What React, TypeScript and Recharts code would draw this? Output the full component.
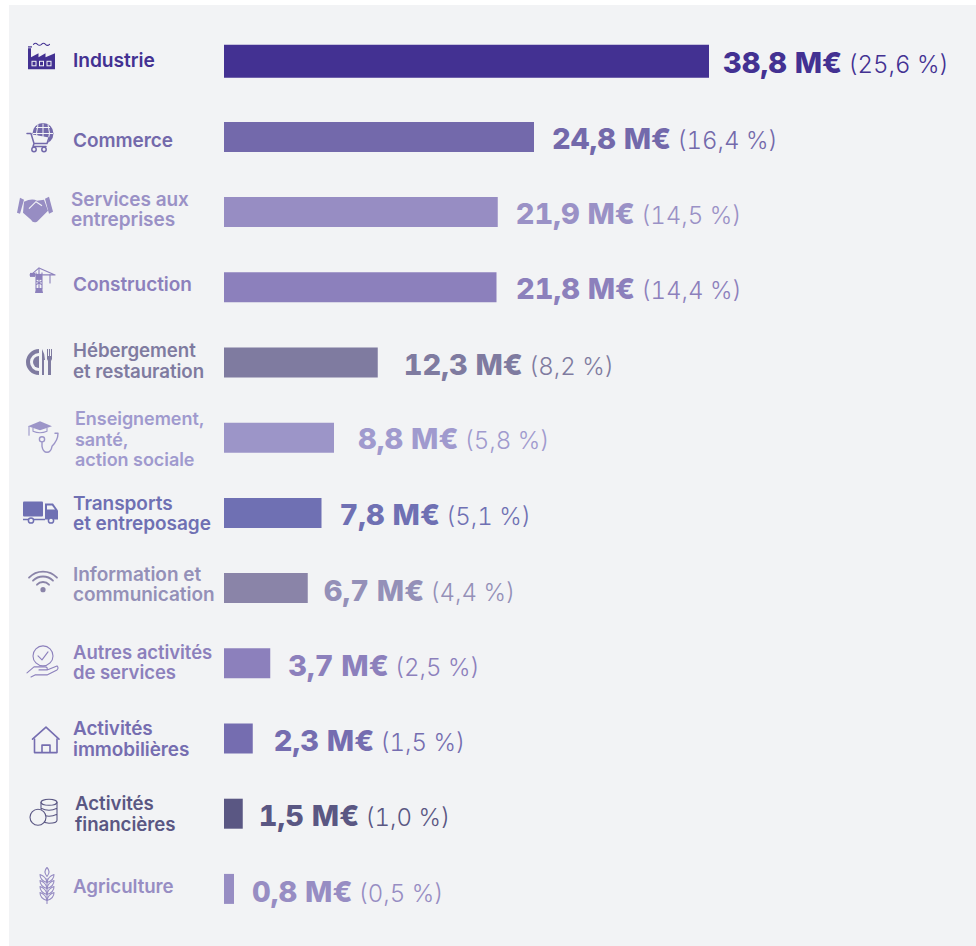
import { Bar, BarChart, Cell, LabelList, Rectangle, XAxis, YAxis } from "recharts";

const categories = [
  "Industrie",
  "Commerce",
  "Services aux|entreprises",
  "Construction",
  "Hébergement|et restauration",
  "Enseignement,|santé,|action sociale",
  "Transports|et entreposage",
  "Information et|communication",
  "Autres activités|de services",
  "Activités|immobilières",
  "Activités|financières",
  "Agriculture",
];
const amounts = [38.8, 24.8, 21.9, 21.8, 12.3, 8.8, 7.8, 6.7, 3.7, 2.3, 1.5, 0.8];
const shares = ["25,6", "16,4", "14,5", "14,4", "8,2", "5,8", "5,1", "4,4", "2,5", "1,5", "1,0", "0,5"];
const barColors = [
  "#433192", "#7369ab", "#978dc3", "#8c80bc", "#7f7ba0", "#9c95c8",
  "#6f70b3", "#8a84a8", "#8c80bc", "#756db0", "#5a5783", "#978dc3",
];
const textColors = [
  "#433192", "#7369ab", "#9a91c6", "#8c80bc", "#7f7ba0", "#a09ace",
  "#6f70b3", "#9490b8", "#8c80bc", "#756db0", "#5a5783", "#978dc3",
];

// hand placed offsets of the row labels, one per row
const labelX = [73, 73, 71, 73, 73, 75, 73, 73, 73, 73, 75, 73];
const labelDy = [-1, 3, -13, -3, -12, -19, -10, -14, -11, -10, -10, -3];
const labelSize = [19.2, 19, 19, 19, 18.7, 18, 19, 19, 18.5, 18.9, 18.7, 18.7];
const valueGap = [14, 18, 18, 19.5, 26, 24, 18, 16, 18, 21, 16, 18];
const valueDy = [1, 2, 1, 1, 2, 1, 2, 2, 2, 2, 2, 3];

const data = categories.map((name, i) => ({ name, amount: amounts[i], share: shares[i] }));

const FONT = "Inter, 'Liberation Sans', sans-serif";
const PANEL = "#f2f3f5";

function RowIcon({ index, y, color }: { index: number; y: number; color: string }) {
  const line = { fill: "none", stroke: color, strokeWidth: 1.5, strokeLinecap: "round" as const, strokeLinejoin: "round" as const };
  const thin = { ...line, strokeWidth: 1.1 };
  switch (index) {
    case 0:
      return (
        <g transform={`translate(41.5 ${y})`}>
          <path d="M-13.5 8 V-13 H-10.5 V-4 L-3 -8 V-4 L4 -8 V-4 L13.5 -8 V8 Z" fill={color} />
          <rect x={-13.5} y={-15} width={4} height={1.2} fill={color} />
          <path d="M-8 -17 q2 -2 4 0 t4 0 t4 0 t4 0" {...thin} />
          {[-9.5, -2, 5.5].map((x) => (
            <rect key={x} x={x} y={0} width={4} height={4.5} fill="none" stroke={PANEL} strokeWidth={1} />
          ))}
        </g>
      );
    case 1:
      return (
        <g transform={`translate(0 ${y})`}>
          <circle cx={43} cy={-3} r={10.5} fill={color} />
          <path d="M33 -3 H53 M43 -13 V7 M36 -9 H50 M38 -12 Q35 -3 38 5 M48 -12 Q51 -3 48 5" stroke={PANEL} strokeWidth={1} fill="none" />
          <path d="M27 -3 H31 L34 7 H47 L49 1 M34 7 L33 10 H46" {...line} fill={PANEL} />
          <circle cx={34} cy={13} r={2.2} {...line} />
          <circle cx={44} cy={13} r={2.2} {...line} />
        </g>
      );
    case 2:
      return (
        <g transform={`translate(0 ${y})`} fill={color}>
          <path d="M20 -14 L24 -12 L20 2 L17 1 Z" />
          <path d="M45 -13 L49 -15 L53 0 L49 2 Z" />
          <path d="M24 -10 Q32 -14 37 -11 L44 -12 L48 -1 L37 10 Q33 12 31 8 L23 1 Z" />
          <path d="M29 -3 L36 -10 L42 -6" fill="none" stroke={PANEL} strokeWidth={1.2} />
        </g>
      );
    case 3:
      return (
        <g transform={`translate(0 ${y})`}>
          <path d="M39 -18 V2 M36 -14 V2 M42 -14 V2 M36 -6 L42 -2 M42 -6 L36 -2" {...thin} />
          <path d="M30 -12 H55 M39 -19 L31 -12 M39 -19 L55 -12" {...thin} />
          <rect x={30} y={-14} width={5} height={4} fill={color} />
          <rect x={36} y={-13} width={6} height={6} fill={color} />
          <path d="M50 -12 V-4" {...thin} />
          <path d="M35 6 L36 1 H42 L43 6 Z" fill={color} />
        </g>
      );
    case 4:
      return (
        <g transform={`translate(0 ${y})`} fill={color}>
          <path d="M39 -13 A13 13 0 0 0 39 13 V9 A9 9 0 0 1 39 -9 Z" />
          <path d="M33 0 A6 6 0 0 1 39 -6 V6 A6 6 0 0 1 33 0 Z" />
          <path d="M42 -13 Q45 -8 45 -2 H44 V13 H42 Z" />
          <path d="M47 -13 H48 V-6 H49 V-13 H50 V-6 H51 V-13 H52 V-3 L51 -1 V13 H48 V-1 L47 -3 Z" />
        </g>
      );
    case 5:
      return (
        <g transform={`translate(0 ${y})`}>
          <path d="M28 -11 L40 -16 L52 -11 L40 -7 Z" fill={color} />
          <path d="M33 -9 V-6 Q40 -3 47 -6 V-9 M29 -11 L29 -2" {...thin} />
          <circle cx={42} cy={2} r={2.6} {...thin} strokeWidth={1.4} />
          <path d="M42 5 V9 Q43 15 47 15 Q51 15 52 9 Q58 3 58 -4 H55" {...thin} strokeWidth={1.4} />
        </g>
      );
    case 6:
      return (
        <g transform={`translate(0 ${y})`}>
          <rect x={23} y={-11} width={20} height={15} fill={color} rx={1} />
          <path d="M45 -9 H53 L58 -2 V7 H45 Z" fill={color} />
          <path d="M47 -7 H52 L55 -3 H47 Z" fill={PANEL} />
          <path d="M23 7 H45" stroke={color} strokeWidth={1.5} />
          <circle cx={31} cy={8} r={2.6} fill={PANEL} stroke={color} strokeWidth={1.5} />
          <circle cx={51} cy={8} r={2.6} fill={PANEL} stroke={color} strokeWidth={1.5} />
        </g>
      );
    case 7:
      return (
        <g transform={`translate(43 ${y + 2})`}>
          <circle cx={0} cy={0} r={2.6} fill={color} />
          <path d="M-6 -5 A8 8 0 0 1 6 -5 M-10 -9 A14 14 0 0 1 10 -9 M-14 -12 A19 19 0 0 1 14 -12" {...line} strokeWidth={1.8} />
        </g>
      );
    case 8:
      return (
        <g transform={`translate(0 ${y})`}>
          <circle cx={43} cy={-7} r={10} {...thin} />
          <path d="M38 -7 L42 -3 L48 -11" {...thin} />
          <path d="M27 10 L34 4 H45 Q48 4 47 7 H39 M47 7 L57 3 Q59 5 57 7 L47 12 H35 L31 14" {...thin} />
        </g>
      );
    case 9:
      return (
        <g transform={`translate(0 ${y})`}>
          <path d="M32.5 1 L46 -11 L59 1" {...line} strokeWidth={1.6} />
          <path d="M34.5 1 V14.5 H57 V1 M42 14.5 V7 H50 V14.5" {...line} strokeWidth={1.6} />
        </g>
      );
    case 10:
      return (
        <g transform={`translate(0 ${y})`}>
          <ellipse cx={49} cy={-11} rx={8} ry={3} {...thin} />
          <path d="M41 -11 V7 Q45 10 49 10 Q57 10 57 7 V-11 M41 -5 Q49 -1 57 -5 M41 1 Q49 5 57 1" {...thin} />
          <circle cx={38} cy={4} r={8} {...thin} fill={PANEL} />
        </g>
      );
    default:
      return (
        <g transform={`translate(47 ${y})`}>
          <path d="M0 -21 Q-4 -17 0 -12 Q4 -17 0 -21 M0 -10 V15" {...thin} />
          {[-11, -5, 1, 7].map((t) => (
            <g key={t}>
              <path d={`M0 ${t + 5} Q-7 ${t + 3} -7 ${t - 3} Q-1 ${t - 1} 0 ${t + 5}`} {...thin} />
              <path d={`M0 ${t + 5} Q7 ${t + 3} 7 ${t - 3} Q1 ${t - 1} 0 ${t + 5}`} {...thin} />
            </g>
          ))}
        </g>
      );
  }
}

function RowTick({ y, payload, index }: any) {
  const color = textColors[index];
  const lines = String(payload.value).split("|");
  return (
    <g>
      <RowIcon index={index} y={y} color={barColors[index]} />
      <text fontFamily={FONT} fontSize={labelSize[index]} fontWeight={600} fill={color} letterSpacing={-0.05}>
        {lines.map((l, i) => (
          <tspan key={l} x={labelX[index]} y={y + labelDy[index] + i * 20.5 + 7}>
            {l}
          </tspan>
        ))}
      </text>
    </g>
  );
}

function ValueLabel({ x, y, width, height, index }: any) {
  const row = data[index];
  return (
    <text
      x={x + width + valueGap[index]}
      y={y + height / 2 + valueDy[index] + 10.5}
      fontFamily={FONT}
      fill={textColors[index]}
      style={{ fontFeatureSettings: '"tnum"' }}
    >
      <tspan fontSize={29} fontWeight={800}>
        {row.amount.toFixed(1).replace(".", ",")} M€
      </tspan>
      <tspan dx={6} fontSize={24} fontWeight={300}>
        ({row.share} %)
      </tspan>
    </text>
  );
}

// the first bar is a little thicker than the others
function RowBar(props: any) {
  if (props.index === 0) return <Rectangle {...props} y={props.y - 2} height={props.height + 3} />;
  return <Rectangle {...props} />;
}

export default function App() {
  return (
    <div style={{ position: "absolute", left: 0, top: 0, width: 976, height: 946, background: "#fff" }}>
      <div style={{ position: "absolute", left: 9, top: 5, width: 967, height: 941, background: PANEL }} />
      <div style={{ position: "absolute", left: 0, top: 0 }}>
        <BarChart
          width={976}
          height={946}
          data={data}
          layout="vertical"
          margin={{ top: 23.7, right: 252, bottom: 19.9, left: 0 }}
          barCategoryGap={0}
        >
          <XAxis type="number" domain={[0, 40]} hide />
          <YAxis
            type="category"
            dataKey="name"
            width={224}
            interval={0}
            axisLine={false}
            tickLine={false}
            tick={RowTick}
          />
          <Bar dataKey="amount" barSize={30} isAnimationActive={false} shape={RowBar}>
            {data.map((d, i) => (
              <Cell key={d.name} fill={barColors[i]} />
            ))}
            <LabelList dataKey="amount" content={ValueLabel} />
          </Bar>
        </BarChart>
      </div>
    </div>
  );
}
